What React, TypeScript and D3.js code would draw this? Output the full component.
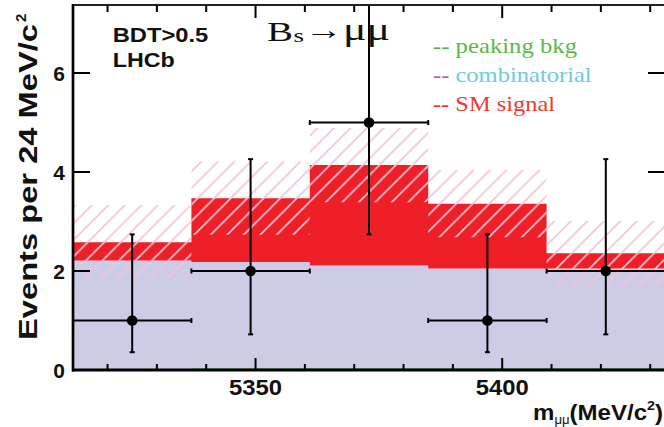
import React from "react";
import * as d3 from "d3";

// ---- data ----
const binEdges = [5313, 5337, 5361, 5385, 5409, 5433];
const peaking = [0, 0.035, 0.035, 0.035, 0.035];
const combinatorial = [2.21, 2.145, 2.075, 2.015, 2.015];
const smSignal = [0.37, 1.29, 2.03, 1.31, 0.31];
const uncertainty = [0.75, 0.74, 0.75, 0.68, 0.65];
const dataCounts = [1, 2, 5, 1, 2];
const errLow = [0.64, 1.28, 2.26, 0.64, 1.28];
const errHigh = [1.74, 2.26, 3.4, 1.74, 2.26];
const yTicks = [0, 2, 4, 6];
const xMajorTicks = [5350, 5400];
const xMinorTicks = [5320, 5330, 5340, 5360, 5370, 5380, 5390, 5410, 5420, 5430];
const legendItems = [
  { dash: "-- ", label: "peaking bkg", dashColor: "#4fb340", textColor: "#5cb848" },
  { dash: "-- ", label: "combinatorial", dashColor: "#c44aae", textColor: "#6ec9e2" },
  { dash: "-- ", label: "SM signal", dashColor: "#ee2a22", textColor: "#ee3a2a" },
];

const W = 664;
const H = 427;
const L = 73, R = 665, T = 5, B = 370;

export default function App() {
  const x = d3.scaleLinear().domain([5313, 5433]).range([L, R]);
  const y = d3.scaleLinear().domain([0, 7.374]).range([B, T]);
  const bins = d3.range(dataCounts.length).map((i) => {
    const p = peaking[i];
    const c = p + combinatorial[i];
    const s = c + smSignal[i];
    return {
      x0: x(binEdges[i]),
      x1: x(binEdges[i + 1]),
      xc: x((binEdges[i] + binEdges[i + 1]) / 2),
      p, c, s,
      u: uncertainty[i],
      n: dataCounts[i],
      lo: errLow[i],
      hi: errHigh[i],
    };
  });
  const stepPts = (lo: (b: any) => number, hi: (b: any) => number) => {
    const pts = bins.map((b) => ({ xv: b.x0, y0: lo(b), y1: hi(b) }));
    const last = bins[bins.length - 1];
    pts.push({ xv: last.x1, y0: lo(last), y1: hi(last) });
    return pts;
  };
  const area = d3.area<{ xv: number; y0: number; y1: number }>()
    .x((d) => d.xv)
    .y0((d) => y(d.y0))
    .y1((d) => y(d.y1))
    .curve(d3.curveStepAfter);
  const peakPath = area(stepPts(() => 0, (b) => b.p)) || "";
  const combPath = area(stepPts((b) => b.p, (b) => b.c)) || "";
  const sigPath = area(stepPts((b) => b.c, (b) => b.s)) || "";
  const bandPath = area(stepPts((b) => b.s - b.u, (b) => b.s + b.u)) || "";

  const sans = "'Liberation Sans', Arial, Helvetica, sans-serif";
  const serif = "'Liberation Serif', 'Times New Roman', serif";
  const cap = 2.5;

  return (
    <svg width={W} height={H} style={{ position: "absolute", left: 0, top: 0, background: "#fff" }}>
      <defs>
        <pattern id="hatch" patternUnits="userSpaceOnUse" width={16.5} height={16.5} x={0} y={0}>
          <path d="M0,16.5 L16.5,0 M-2,2 L2,-2 M14.5,18.5 L18.5,14.5" stroke="#f3c3d9" strokeWidth={1.7} />
        </pattern>
        <clipPath id="frame">
          <rect x={L} y={T} width={R - L} height={B - T} />
        </clipPath>
      </defs>
      <rect x={0} y={0} width={W} height={H} fill="#fff" />
      <g clipPath="url(#frame)">
        <path d={peakPath} fill="#3fa535" />
        <path d={combPath} fill="#cccce6" />
        <path d={sigPath} fill="#ee1f26" />
        <path d={bandPath} fill="url(#hatch)" />
        {bins.map((b, i) => (
          <g key={"d" + i} stroke="#000" strokeWidth={2}>
            <line x1={b.x0} x2={b.x1} y1={y(b.n)} y2={y(b.n)} />
            <line x1={b.x0} x2={b.x0} y1={y(b.n) - cap} y2={y(b.n) + cap} />
            <line x1={b.x1} x2={b.x1} y1={y(b.n) - cap} y2={y(b.n) + cap} />
            <line x1={b.xc} x2={b.xc} y1={y(b.n - b.lo)} y2={y(b.n + b.hi)} />
            <line x1={b.xc - cap} x2={b.xc + cap} y1={y(b.n - b.lo)} y2={y(b.n - b.lo)} />
            <line x1={b.xc - cap} x2={b.xc + cap} y1={y(b.n + b.hi)} y2={y(b.n + b.hi)} />
            <circle cx={b.xc} cy={y(b.n)} r={5.3} fill="#000" stroke="none" />
          </g>
        ))}
      </g>
      {/* frame */}
      <line x1={L} x2={R} y1={T} y2={T} stroke="#222" strokeWidth={2} />
      <line x1={R} x2={R} y1={T} y2={B} stroke="#222" strokeWidth={2} />
      <line x1={L} x2={L} y1={T - 1} y2={B + 1.5} stroke="#000" strokeWidth={2.7} />
      <line x1={L - 1} x2={R} y1={B} y2={B} stroke="#000" strokeWidth={3} />
      {/* y ticks */}
      {yTicks.map((t) => (
        <g key={"yt" + t} stroke="#000" strokeWidth={2}>
          <line x1={L} x2={L + 17} y1={y(t)} y2={y(t)} />
          <line x1={R - 17} x2={R} y1={y(t)} y2={y(t)} />
        </g>
      ))}
      {/* x ticks */}
      {xMajorTicks.map((t) => (
        <g key={"xM" + t} stroke="#000" strokeWidth={2}>
          <line x1={x(t)} x2={x(t)} y1={B} y2={B - 12} />
          <line x1={x(t)} x2={x(t)} y1={T} y2={T + 13} />
        </g>
      ))}
      {xMinorTicks.map((t) => (
        <g key={"xm" + t} stroke="#000" strokeWidth={2}>
          <line x1={x(t)} x2={x(t)} y1={B} y2={B - 6} />
          <line x1={x(t)} x2={x(t)} y1={T} y2={T + 7} />
        </g>
      ))}
      {/* tick labels */}
      {yTicks.map((t) => (
        <text key={"yl" + t} x={65} y={y(t) + 7.5} textAnchor="end" fontFamily={sans}
          fontWeight="bold" fontSize={21} fill="#111">{t}</text>
      ))}
      {xMajorTicks.map((t) => (
        <text key={"xl" + t} x={x(t)} y={395} textAnchor="middle" fontFamily={sans}
          fontWeight="bold" fontSize={22} fill="#111" textLength={53} lengthAdjust="spacingAndGlyphs">{t}</text>
      ))}
      {/* axis titles */}
      <g transform={`translate(37,340) rotate(-90)`}>
        <text x={0} y={0} fontFamily={sans} fontWeight="bold" fontSize={25} fill="#111"
          textLength={316} lengthAdjust="spacingAndGlyphs">Events per 24 MeV/c</text>
        <text x={318} y={-11} fontFamily={sans} fontWeight="bold" fontSize={15} fill="#111">2</text>
      </g>
      <text x={533} y={420} fontFamily={sans} fontWeight="bold" fontSize={22} fill="#111"
        textLength={130} lengthAdjust="spacingAndGlyphs">
        m<tspan fontSize={12} fontWeight="normal" dy={4}>μμ</tspan>
        <tspan dy={-4}>(MeV/c</tspan>
        <tspan fontSize={13} dy={-10}>2</tspan>
        <tspan dy={10}>)</tspan>
      </text>
      {/* labels */}
      <text x={112.7} y={41.7} fontFamily={sans} fontWeight="bold" fontSize={21} fill="#111"
        textLength={95.6} lengthAdjust="spacingAndGlyphs">BDT&gt;0.5</text>
      <text x={112.7} y={66.7} fontFamily={sans} fontWeight="bold" fontSize={21} fill="#111"
        textLength={62} lengthAdjust="spacingAndGlyphs">LHCb</text>
      {/* title */}
      <text x={267} y={40.7} fontFamily={serif} fontSize={27} fill="#111"
        textLength={26} lengthAdjust="spacingAndGlyphs">B</text>
      <text x={293.5} y={41.7} fontFamily={serif} fontSize={18} fill="#111"
        textLength={10.5} lengthAdjust="spacingAndGlyphs">s</text>
      <text x={304.5} y={39} fontFamily={serif} fontSize={27} fill="#111"
        textLength={38} lengthAdjust="spacingAndGlyphs">→</text>
      <text x={343} y={40} fontFamily={serif} fontSize={32} fill="#111"
        textLength={47} lengthAdjust="spacingAndGlyphs">μμ</text>
      {/* legend */}
      {legendItems.map((it, i) => (
        <text key={"lg" + i} x={433} y={53 + i * 29} fontFamily={serif} fontSize={21}
          textLength={[144, 158.7, 122][i]} lengthAdjust="spacingAndGlyphs">
          <tspan fill={it.dashColor}>{it.dash}</tspan>
          <tspan fill={it.textColor}>{it.label}</tspan>
        </text>
      ))}
    </svg>
  );
}
